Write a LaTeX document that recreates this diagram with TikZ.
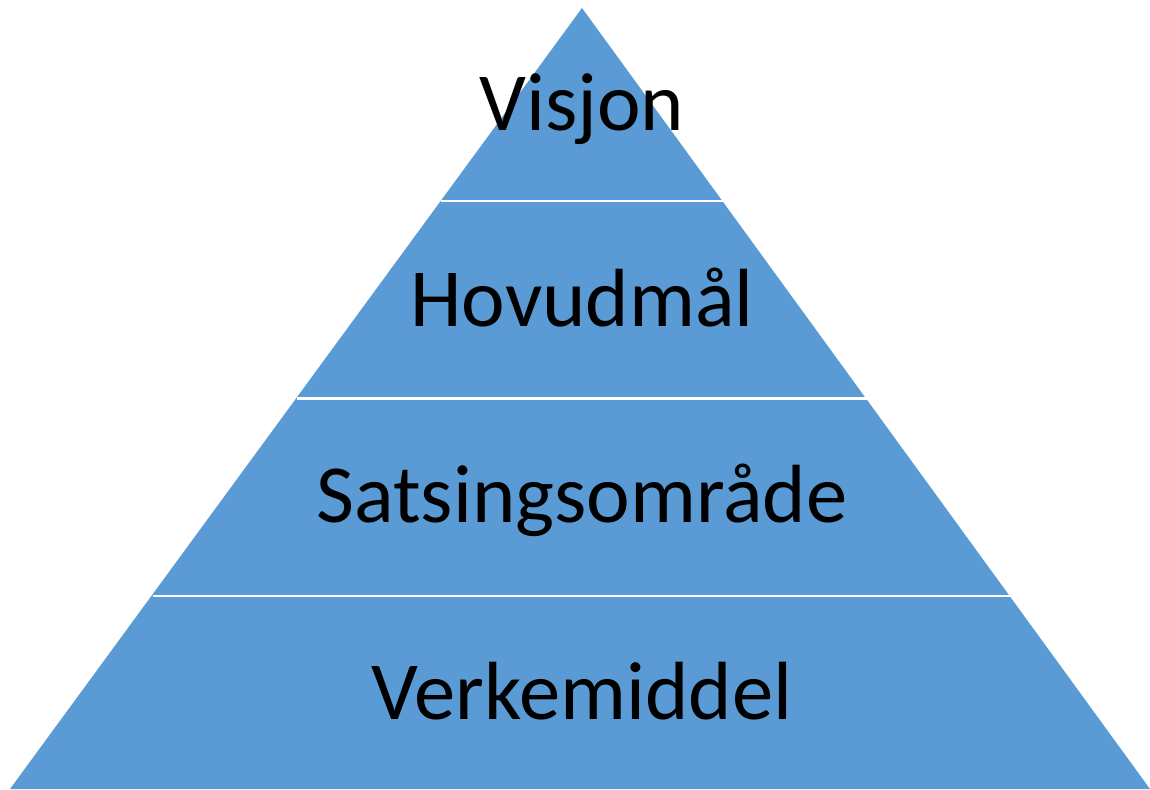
\documentclass[tikz,border=0pt]{standalone}
\usepackage{fontspec}
\setmainfont{Carlito}
\usepackage{tikz}
\usetikzlibrary{calc}
\definecolor{layerblue}{HTML}{5B9BD5}

\begin{document}
\begin{tikzpicture}[x=0.02cm, y=-0.02cm]
  \def\ysep{197.5}
  \def\slope{0.73}

  \useasboundingbox (0, 0) rectangle (1150, 789);

  \coordinate (top)   at (582, 8);
  \coordinate (baseL) at (10, 789);
  \coordinate (baseR) at (1150, 789);

  \fill[layerblue] (top) -- (baseL) -- (baseR) -- cycle;

  \foreach \i in {1,2,3} {
    \coordinate (s\i L) at ($(top) + ({-\slope*(\i*\ysep-4.5)}, {\i*\ysep-4.5})$);
    \coordinate (s\i R) at ($(top) + ({\slope*(\i*\ysep-4.5)}, {\i*\ysep-4.5})$);
    \draw[white, line width=1.6pt] (s\i L) -- (s\i R);
  }

  \node[anchor=base, font=\fontsize{47}{56}\selectfont] (visjon)  at (582, 130) {Visjon};
  \node[anchor=base, font=\fontsize{47}{56}\selectfont] (hovud)   at (582, 326) {Hovudmål};
  \node[anchor=base, font=\fontsize{47}{56}\selectfont] (satsing) at (582, 522) {Satsingsområde};
  \node[anchor=base, font=\fontsize{47}{56}\selectfont] (verke)   at (582, 719) {Verkemiddel};
\end{tikzpicture}
\end{document}
